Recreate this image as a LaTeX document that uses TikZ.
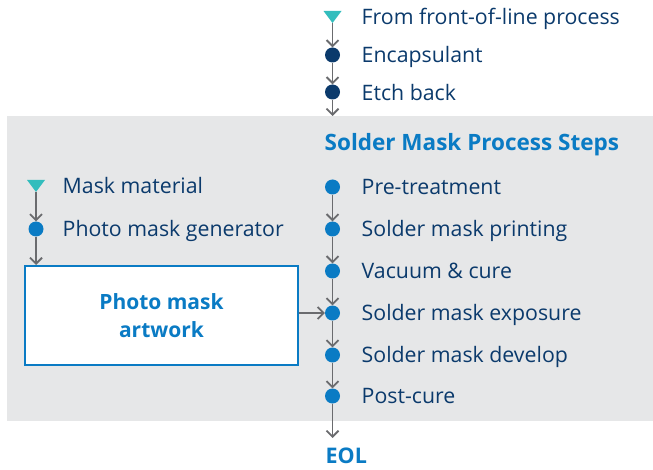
\documentclass[tikz,border=0pt]{standalone}
\usepackage{fontspec}
\setmainfont{Open Sans}
\usetikzlibrary{arrows.meta}
\definecolor{navy}{HTML}{0B3A6C}
\definecolor{blu}{HTML}{0A7BC4}
\definecolor{teal}{HTML}{33BDBD}
\definecolor{bg}{HTML}{E6E7E8}
\definecolor{lgray}{HTML}{6A6B6E}
\tikzset{
  dotn/.style={circle,fill=navy,inner sep=0pt,minimum size=15pt},
  dotb/.style={circle,fill=blu,inner sep=0pt,minimum size=15pt},
  lbl/.style={anchor=base west,text=navy,inner sep=0pt,font=\fontsize{21.3}{24}\selectfont},
  head/.style={anchor=base west,text=blu,inner sep=0pt,font=\fontsize{22.5}{24}\selectfont\bfseries},
  eolstyle/.style={anchor=base west,text=blu,inner sep=0pt,font=\fontsize{21.5}{24}\selectfont\bfseries},
  flow/.style={draw=lgray,line width=1.8pt,-{Straight Barb[length=6pt,width=12pt,line width=1.8pt]}},
  tri/.style={fill=teal},
  artbox/.style={draw=blu,line width=2pt,fill=white,minimum width=273pt,minimum height=99pt,
     align=center,text=blu,font=\fontsize{21}{28}\selectfont\bfseries}
}
\begin{document}
\begin{tikzpicture}[x=1pt,y=-1pt]
\useasboundingbox (0,0) rectangle (653,470);
\fill[bg] (7,116) rectangle (653,421);
% top column
\fill[tri] (323.5,11) -- (341.5,11) -- (332.5,23) -- cycle;
\coordinate (t0) at (332.5,23);
\node[dotn] (c1) at (332.5,55) {};
\node[dotn] (c2) at (332.5,92) {};
\coordinate (gtop) at (332.5,116);
\node[lbl] (l0) at (361.5,24.5) {From front-of-line process};
\node[lbl] (l1) at (361.5,62.5) {Encapsulant};
\node[lbl] (l2) at (361.5,100.5) {Etch back};
\draw[flow] (t0) -- (c1);
\draw[flow] (c1) -- (c2);
\draw[flow] (c2) -- (gtop);
% title
\node[head] (title) at (324.5,151) {Solder Mask Process Steps};
% process steps
\node[dotb] (s1) at (332.5,187) {};
\node[dotb] (s2) at (332.5,229) {};
\node[dotb] (s3) at (332.5,271) {};
\node[dotb] (s4) at (332.5,313) {};
\node[dotb] (s5) at (332.5,355) {};
\node[dotb] (s6) at (332.5,396) {};
\node[lbl] at (361.5,194.5) {Pre-treatment};
\node[lbl] at (361.5,236.5) {Solder mask printing};
\node[lbl] at (361.5,278.5) {Vacuum \& cure};
\node[lbl] at (361.5,320.5) {Solder mask exposure};
\node[lbl] at (361.5,362.5) {Solder mask develop};
\node[lbl] at (361.5,403.5) {Post-cure};
\draw[flow] (s1) -- (s2);
\draw[flow] (s2) -- (s3);
\draw[flow] (s3) -- (s4);
\draw[flow] (s4) -- (s5);
\draw[flow] (s5) -- (s6);
\coordinate (eolend) at (332.5,438);
\draw[flow] (s6) -- (eolend);
\node[eolstyle] (eol) at (325.5,463) {EOL};
% left column
\fill[tri] (27,180) -- (45,180) -- (36,192) -- cycle;
\coordinate (t1) at (36,192);
\node[dotb] (m1) at (36,229) {};
\node[lbl] at (62.5,194) {Mask material};
\node[lbl] at (62.5,237) {Photo mask generator};
\node[artbox] (art) at (161.5,315.5) {Photo mask\\artwork};
\draw[flow] (t1) -- (m1);
\draw[flow] (m1) -- (art.north -| m1);
\draw[flow] (art.east |- s4) -- (s4);
\end{tikzpicture}
\end{document}
